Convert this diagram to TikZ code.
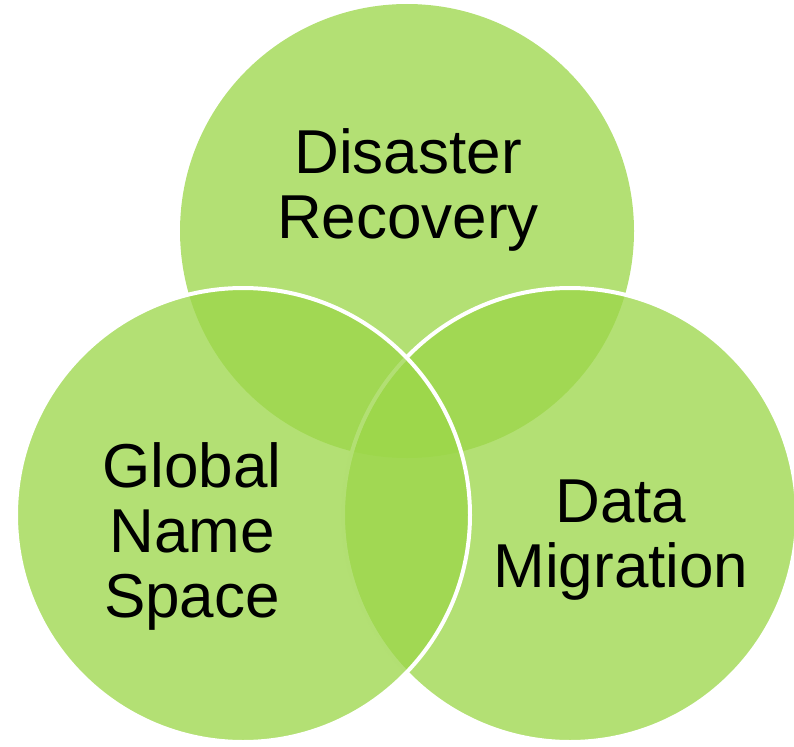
\documentclass[tikz,border=0pt]{standalone}
\usepackage{fontspec}
\setmainfont{Liberation Sans}
\definecolor{venn}{RGB}{155,214,72}
\begin{document}
\begin{tikzpicture}[x=1pt,y=-1pt,
  venncircle/.style={circle,inner sep=0pt,minimum size=454pt,fill=venn,fill opacity=0.76},
  outlined/.style={draw=white,draw opacity=1,line width=4pt},
  label/.style={text=black,align=center,font=\fontsize{62}{65}\selectfont,inner sep=0pt,anchor=base}]
\useasboundingbox (0,0) rectangle (794,746);
\node[venncircle] (top) at (407,231) {};
\node[venncircle,outlined] (right) at (570,515) {};
\node[venncircle,outlined] (left) at (243,515) {};
\node[label] (tdr) at (408,238) {Disaster\\Recovery};
\node[label] (tgns) at (192,617) {Global\\Name\\Space};
\node[label] (tdm) at (621,587) {Data\\Migration};
\end{tikzpicture}
\end{document}
